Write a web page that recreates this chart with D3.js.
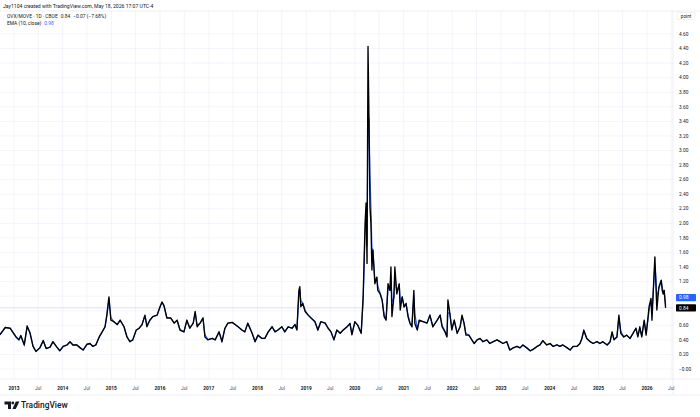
<!DOCTYPE html>
<html>
<head>
<meta charset="utf-8">
<script src="https://cdn.jsdelivr.net/npm/d3@7"></script>
<style>
  html, body { margin: 0; padding: 0; background: #fff; }
  svg { display: block; font-family: Roboto, "Noto Sans", sans-serif; }
</style>
</head>
<body>
<svg id="chart" width="700" height="417"></svg>
<script>
const when = [
  2012.71, 2012.82, 2012.92, 2012.98, 2013.04, 2013.10, 2013.14, 2013.21, 2013.27, 2013.33,
  2013.39, 2013.45, 2013.53, 2013.60, 2013.66, 2013.74, 2013.80, 2013.88, 2013.94, 2014.01,
  2014.09, 2014.15, 2014.21, 2014.29, 2014.36, 2014.42, 2014.50, 2014.56, 2014.62, 2014.68,
  2014.75, 2014.81, 2014.87, 2014.91, 2014.95, 2014.99, 2015.05, 2015.12, 2015.18, 2015.26,
  2015.32, 2015.38, 2015.44, 2015.51, 2015.57, 2015.63, 2015.69, 2015.73, 2015.79, 2015.85,
  2015.94, 2016.00, 2016.04, 2016.08, 2016.14, 2016.22, 2016.29, 2016.35, 2016.41, 2016.49,
  2016.55, 2016.61, 2016.68, 2016.72, 2016.76, 2016.82, 2016.88, 2016.92, 2016.98, 2017.07,
  2017.13, 2017.21, 2017.27, 2017.33, 2017.39, 2017.48, 2017.54, 2017.60, 2017.68, 2017.74,
  2017.80, 2017.89, 2017.95, 2018.01, 2018.09, 2018.15, 2018.22, 2018.30, 2018.36, 2018.42,
  2018.50, 2018.56, 2018.63, 2018.71, 2018.77, 2018.81, 2018.85, 2018.87, 2018.89, 2018.93,
  2018.98, 2019.04, 2019.10, 2019.18, 2019.24, 2019.30, 2019.39, 2019.45, 2019.51, 2019.57,
  2019.63, 2019.70, 2019.76, 2019.84, 2019.90, 2019.94, 2020.00, 2020.06, 2020.13, 2020.17,
  2020.21, 2020.23, 2020.25, 2020.27, 2020.29, 2020.31, 2020.33, 2020.35, 2020.37, 2020.41,
  2020.45, 2020.47, 2020.52, 2020.56, 2020.60, 2020.64, 2020.68, 2020.72, 2020.74, 2020.76,
  2020.80, 2020.82, 2020.86, 2020.91, 2020.93, 2020.97, 2021.01, 2021.05, 2021.09, 2021.13,
  2021.17, 2021.21, 2021.23, 2021.28, 2021.32, 2021.40, 2021.48, 2021.54, 2021.60, 2021.69,
  2021.75, 2021.79, 2021.85, 2021.89, 2021.91, 2021.95, 2021.99, 2022.04, 2022.10, 2022.16,
  2022.20, 2022.24, 2022.28, 2022.34, 2022.40, 2022.45, 2022.51, 2022.57, 2022.63, 2022.71,
  2022.77, 2022.84, 2022.92, 2022.98, 2023.04, 2023.12, 2023.18, 2023.25, 2023.33, 2023.39,
  2023.45, 2023.53, 2023.60, 2023.66, 2023.74, 2023.80, 2023.86, 2023.94, 2024.01, 2024.07,
  2024.15, 2024.21, 2024.27, 2024.36, 2024.42, 2024.48, 2024.56, 2024.62, 2024.66, 2024.70,
  2024.76, 2024.83, 2024.89, 2024.97, 2025.03, 2025.09, 2025.18, 2025.24, 2025.28, 2025.32,
  2025.38, 2025.42, 2025.46, 2025.52, 2025.58, 2025.65, 2025.71, 2025.77, 2025.81, 2025.85,
  2025.89, 2025.94, 2025.98, 2026.02, 2026.04, 2026.08, 2026.10, 2026.14, 2026.16, 2026.18,
  2026.20, 2026.24, 2026.29, 2026.31, 2026.33, 2026.35, 2026.38
];

// OVX/MOVE close
const close = [
  0.47, 0.57, 0.56, 0.50, 0.44, 0.40, 0.46, 0.33, 0.59, 0.49,
  0.31, 0.24, 0.29, 0.39, 0.28, 0.30, 0.375, 0.30, 0.25, 0.31,
  0.33, 0.375, 0.33, 0.33, 0.29, 0.26, 0.34, 0.35, 0.31, 0.33,
  0.44, 0.51, 0.58, 0.76, 0.99, 0.67, 0.65, 0.61, 0.67, 0.58,
  0.44, 0.375, 0.40, 0.535, 0.56, 0.61, 0.74, 0.58, 0.67, 0.72,
  0.74, 0.855, 0.92, 0.87, 0.70, 0.70, 0.63, 0.67, 0.535, 0.51,
  0.67, 0.56, 0.63, 0.79, 0.58, 0.63, 0.70, 0.44, 0.40, 0.42,
  0.40, 0.51, 0.375, 0.56, 0.63, 0.64, 0.61, 0.58, 0.535, 0.51,
  0.63, 0.49, 0.375, 0.465, 0.42, 0.42, 0.51, 0.58, 0.51, 0.535,
  0.58, 0.51, 0.58, 0.56, 0.61, 0.535, 1.08, 1.13, 0.855, 0.90,
  0.79, 0.74, 0.70, 0.65, 0.535, 0.65, 0.63, 0.56, 0.51, 0.40,
  0.535, 0.49, 0.535, 0.58, 0.625, 0.47, 0.65, 0.60, 0.49, 0.99,
  2.00, 2.28, 1.45, 4.43, 3.42, 2.23, 2.00, 1.36, 1.63, 1.17,
  1.26, 1.08, 1.03, 0.94, 0.72, 0.67, 1.17, 1.08, 1.40, 0.72,
  0.99, 1.40, 1.03, 1.17, 0.81, 0.99, 0.85, 0.90, 0.72, 0.625,
  0.58, 1.08, 0.625, 0.535, 0.67, 0.65, 0.63, 0.74, 0.58, 0.67,
  0.74, 0.58, 0.51, 0.44, 0.95, 0.76, 0.535, 0.67, 0.49, 0.58,
  0.74, 0.63, 0.465, 0.465, 0.40, 0.35, 0.40, 0.42, 0.375, 0.40,
  0.35, 0.375, 0.40, 0.375, 0.35, 0.375, 0.26, 0.29, 0.31, 0.29,
  0.33, 0.29, 0.25, 0.27, 0.31, 0.33, 0.39, 0.33, 0.35, 0.31,
  0.33, 0.31, 0.33, 0.29, 0.26, 0.31, 0.31, 0.35, 0.42, 0.535,
  0.42, 0.375, 0.35, 0.375, 0.35, 0.375, 0.33, 0.375, 0.51, 0.40,
  0.44, 0.74, 0.49, 0.44, 0.465, 0.42, 0.49, 0.56, 0.44, 0.58,
  0.44, 0.67, 0.465, 0.72, 0.855, 0.97, 0.67, 1.27, 1.54, 1.17,
  0.81, 1.12, 1.22, 1.08, 1.03, 1.08, 0.84
];

const yTicks = [0, 0.2, 0.4, 0.6, 0.8, 1.0, 1.2, 1.4, 1.6, 1.8, 2.0, 2.2, 2.4, 2.6, 2.8, 3.0,
  3.2, 3.4, 3.6, 3.8, 4.0, 4.2, 4.4, 4.6];
const tickYears = [2013, 2014, 2015, 2016, 2017, 2018, 2019, 2020, 2021, 2022, 2023, 2024, 2025, 2026];

const headerText = 'Jay1104 created with TradingView.com, May 18, 2026 17:07 UTC-4';
const symbolText = 'OVX/MOVE · 1D · CBOE';
const lastClose = 0.84;
const lastChange = '−0.07 (−7.68%)';
const lastEma = 0.98;
const emaLength = 10;

const W = 700, H = 417;
const pane = {left: 0, right: 673, top: 11, bottom: 379};

const toDate = function (yf) {
  const yr = Math.floor(yf);
  const a = new Date(yr, 0, 1).getTime();
  const b = new Date(yr + 1, 0, 1).getTime();
  return new Date(a + (yf - yr) * (b - a));
};

const data = when.map((w, i) => ({date: toDate(w), value: close[i]}));

// EMA(10) on trading days, spacing of samples taken into account
const decayPerDay = (emaLength - 1) / (emaLength + 1);
let prev = null;
data.forEach(function (d, i) {
  if (prev === null) {
    d.ema = d.value;
  } else {
    const tradingDays = (d.date - data[i - 1].date) / 864e5 * 5 / 7;
    const k = Math.pow(decayPerDay, Math.max(1, tradingDays));
    d.ema = prev * k + d.value * (1 - k);
  }
  prev = d.ema;
});

const x = d3.scaleTime()
  .domain([toDate(2012.7125), toDate(2026.532)])
  .range([pane.left, pane.right]);

const y = d3.scaleLinear()
  .domain([0, 4.6])
  .range([369, 34]);

const svg = d3.select('#chart');
svg.append('rect').attr('width', W).attr('height', H).attr('fill', '#fff');

svg.append('defs').append('clipPath').attr('id', 'pane')
  .append('rect')
  .attr('x', pane.left).attr('y', pane.top)
  .attr('width', pane.right - pane.left).attr('height', pane.bottom - pane.top);

// time ticks: every January and July
const timeTicks = [];
tickYears.forEach(function (yr) {
  timeTicks.push({date: new Date(yr, 0, 1), label: String(yr), major: true});
  timeTicks.push({date: new Date(yr, 6, 1), label: 'Jul', major: false});
});

const grid = svg.append('g').attr('class', 'grid');
grid.selectAll('line.v')
  .data(timeTicks)
  .join('line')
  .attr('class', 'v')
  .attr('x1', d => x(d.date)).attr('x2', d => x(d.date))
  .attr('y1', pane.top).attr('y2', pane.bottom)
  .attr('stroke', '#f0f3fa').attr('stroke-width', 0.8);

grid.selectAll('line.h')
  .data(yTicks)
  .join('line')
  .attr('class', 'h')
  .attr('x1', pane.left).attr('x2', pane.right)
  .attr('y1', d => y(d)).attr('y2', d => y(d))
  .attr('stroke', '#f0f3fa').attr('stroke-width', 0.8);

// pane borders
svg.append('line').attr('x1', 0).attr('x2', W).attr('y1', pane.top).attr('y2', pane.top)
  .attr('stroke', '#e0e3eb').attr('stroke-width', 0.6);
svg.append('line').attr('x1', pane.right).attr('x2', pane.right).attr('y1', pane.top).attr('y2', 395)
  .attr('stroke', '#e0e3eb').attr('stroke-width', 0.6);
svg.append('line').attr('x1', 0).attr('x2', W).attr('y1', pane.bottom).attr('y2', pane.bottom)
  .attr('stroke', '#e0e3eb').attr('stroke-width', 0.6);
svg.append('line').attr('x1', 0).attr('x2', W).attr('y1', 395).attr('y2', 395)
  .attr('stroke', '#e0e3eb').attr('stroke-width', 0.6);

// last price line
svg.append('line')
  .attr('x1', pane.left).attr('x2', pane.right)
  .attr('y1', y(lastClose)).attr('y2', y(lastClose))
  .attr('stroke', '#d1d4dc').attr('stroke-width', 0.7);

const plot = svg.append('g').attr('clip-path', 'url(#pane)');

const emaLine = d3.line().x(d => x(d.date)).y(d => y(d.ema));
const closeLine = d3.line().x(d => x(d.date)).y(d => y(d.value));

plot.append('path')
  .datum(data)
  .attr('d', emaLine)
  .attr('fill', 'none')
  .attr('stroke', '#2962ff')
  .attr('stroke-width', 1.2);

plot.append('path')
  .datum(data)
  .attr('d', closeLine)
  .attr('fill', 'none')
  .attr('stroke', '#000')
  .attr('stroke-width', 1.35)
  .attr('stroke-linejoin', 'round');

// value tags on the price scale (hide tick labels they cover)
const tags = [
  {value: lastEma, fill: '#2962ff'},
  {value: lastClose, fill: '#000'}
];
const covered = v => tags.some(t => Math.abs(y(t.value) - y(v)) < 6.5);

// price scale
const priceAxis = svg.append('g').attr('class', 'y axis');
priceAxis.selectAll('text')
  .data(yTicks.filter(v => !covered(v)))
  .join('text')
  .attr('x', 679)
  .attr('y', d => y(d))
  .attr('dy', '0.35em')
  .attr('font-size', 4.8)
  .attr('fill', '#131722')
  .text(d => d === 0 ? '−0.00' : d3.format('.2f')(d));

// unit box
svg.append('rect')
  .attr('x', 677).attr('y', 12.5).attr('width', 18).attr('height', 7).attr('rx', 1)
  .attr('fill', '#fff').attr('stroke', '#e0e3eb').attr('stroke-width', 0.5);
svg.append('text')
  .attr('x', 686).attr('y', 16).attr('dy', '0.35em')
  .attr('text-anchor', 'middle').attr('font-size', 4.6).attr('fill', '#131722')
  .text('point');

tags.forEach(function (t) {
  svg.append('rect')
    .attr('x', 676).attr('y', y(t.value) - 3.6).attr('width', 20).attr('height', 7.2).attr('rx', 0.8)
    .attr('fill', t.fill);
  svg.append('text')
    .attr('x', 679).attr('y', y(t.value)).attr('dy', '0.35em')
    .attr('font-size', 4.8).attr('fill', '#fff')
    .text(d3.format('.2f')(t.value));
});

// time scale
const timeAxis = svg.append('g').attr('class', 'x axis');
timeAxis.selectAll('text')
  .data(timeTicks.filter(d => x(d.date) < pane.right))
  .join('text')
  .attr('x', d => x(d.date))
  .attr('y', 388)
  .attr('dy', '0.35em')
  .attr('text-anchor', 'middle')
  .attr('font-size', 4.8)
  .attr('font-weight', d => d.major ? 700 : 400)
  .attr('fill', d => d.major ? '#131722' : '#50535e')
  .text(d => d.label);

// header and legend
svg.append('text')
  .attr('x', 3).attr('y', 6).attr('dy', '0.35em')
  .attr('font-size', 5.1).attr('fill', '#131722')
  .text(headerText);

const legend = svg.append('g').attr('font-size', 4.9);
const l1 = legend.append('text').attr('x', 7).attr('y', 16).attr('dy', '0.35em').attr('fill', '#131722');
l1.append('tspan').text(symbolText);
l1.append('tspan').attr('dx', 3).text(d3.format('.2f')(lastClose));
l1.append('tspan').attr('dx', 3).text(lastChange);

const l2 = legend.append('text').attr('x', 7).attr('y', 23).attr('dy', '0.35em').attr('fill', '#131722');
l2.append('tspan').text('EMA (' + emaLength + ', close)');
l2.append('tspan').attr('dx', 3).attr('fill', '#2962ff').text(d3.format('.2f')(lastEma));

// TradingView logo
const logo = svg.append('g').attr('fill', '#131722');
logo.append('path').attr('d', 'M4.5 401.5 h6.5 v7.5 h-3 v-4.6 h-3.5 z');
logo.append('circle').attr('cx', 12.8).attr('cy', 403).attr('r', 1.4);
logo.append('path').attr('d', 'M15.8 401.5 h3.6 l-3.6 7.5 h-3.4 z');
logo.append('text')
  .attr('x', 21).attr('y', 405.3).attr('dy', '0.35em')
  .attr('font-size', 8.4).attr('font-weight', 500)
  .text('TradingView');
</script>
</body>
</html>
